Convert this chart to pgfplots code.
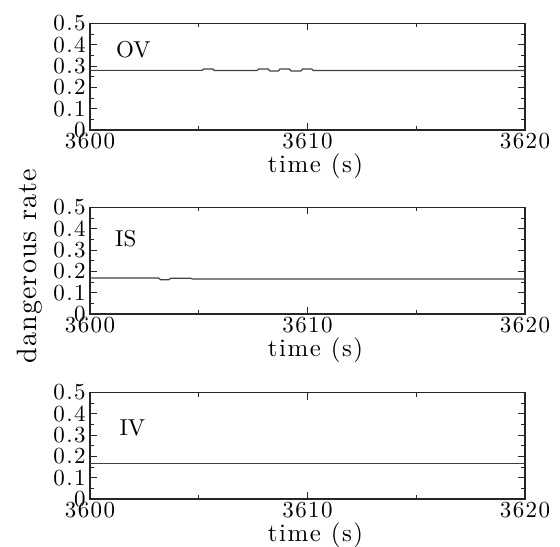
\documentclass[border=0pt]{standalone}
\usepackage{fontspec}
\setmainfont{lmroman10-regular.otf}[BoldFont=lmroman10-bold.otf, ItalicFont=lmroman10-italic.otf]
\usepackage{pgfplots}
\pgfplotsset{compat=1.18}

\newcommand\tickfont{\fontsize{11.5}{13}\selectfont\addfontfeature{LetterSpace=6}}
\newcommand\labfont{\fontsize{12.5}{14}\selectfont\addfontfeature{LetterSpace=6}}

\pgfplotsset{panel/.style={
  width=217.5pt, height=53.25pt, scale only axis,
  xmin=3600, xmax=3620, ymin=0, ymax=0.5,
  xtick={3600,3610,3620}, minor x tick num=1,
  ytick={0,0.1,0.2,0.3,0.4,0.5}, minor y tick num=1,
  major tick length=3.5pt, minor tick length=2pt,
  scaled ticks=false, clip=false,
  /pgf/number format/1000 sep={},
  /pgf/number format/assume math mode=true,
  tick label style={font=\tickfont, inner sep=0pt},
  xticklabel style={yshift=-1.5pt},
  yticklabel style={xshift=-2pt},
  axis line style={black!85, line width=0.6pt},
  every tick/.style={black!85, line width=0.5pt},
  xlabel={time (s)},
  xlabel style={font=\labfont, at={(rel axis cs:0.5,0)}, anchor=center, yshift=-18pt, xshift=4pt},
}, line/.style={black!75, line width=0.6pt, mark=none}}

\begin{document}
\begin{tikzpicture}
\useasboundingbox (-45pt,-208pt) rectangle (235pt,65pt);

% OV
\begin{axis}[panel, at={(0,0)}]
\addplot[line] coordinates {(3600,0.280)(3605.15,0.280)(3605.22,0.286)(3605.65,0.286)(3605.72,0.279)(3607.68,0.279)(3607.75,0.286)(3608.2,0.286)(3608.27,0.277)(3608.66,0.277)(3608.73,0.286)(3609.17,0.286)(3609.24,0.277)(3609.70,0.277)(3609.77,0.286)(3610.2,0.286)(3610.27,0.279)(3620,0.279)};
\node[anchor=west, inner sep=0pt, font=\fontsize{11.5}{13}\selectfont] at (axis cs:3601.18,0.377) {OV};
\end{axis}

% IS
\begin{axis}[panel, at={(0,-92pt)}]
\addplot[line] coordinates {(3600,0.169)(3603.15,0.169)(3603.25,0.161)(3603.62,0.161)(3603.72,0.168)(3604.62,0.168)(3604.72,0.164)(3620,0.164)};
\node[anchor=west, inner sep=0pt, font=\fontsize{11.5}{13}\selectfont] at (axis cs:3601.14,0.354) {IS};
\node[rotate=90, font=\fontsize{14}{16}\selectfont\addfontfeature{LetterSpace=4}] at ([xshift=-30pt]rel axis cs:0,0.45) {dangerous rate};
\end{axis}

% IV
\begin{axis}[panel, at={(0,-184.5pt)}]
\addplot[line] coordinates {(3600,0.165)(3620,0.165)};
\node[anchor=west, inner sep=0pt, font=\fontsize{11.5}{13}\selectfont] at (axis cs:3601.34,0.336) {IV};
\end{axis}
\end{tikzpicture}
\end{document}
